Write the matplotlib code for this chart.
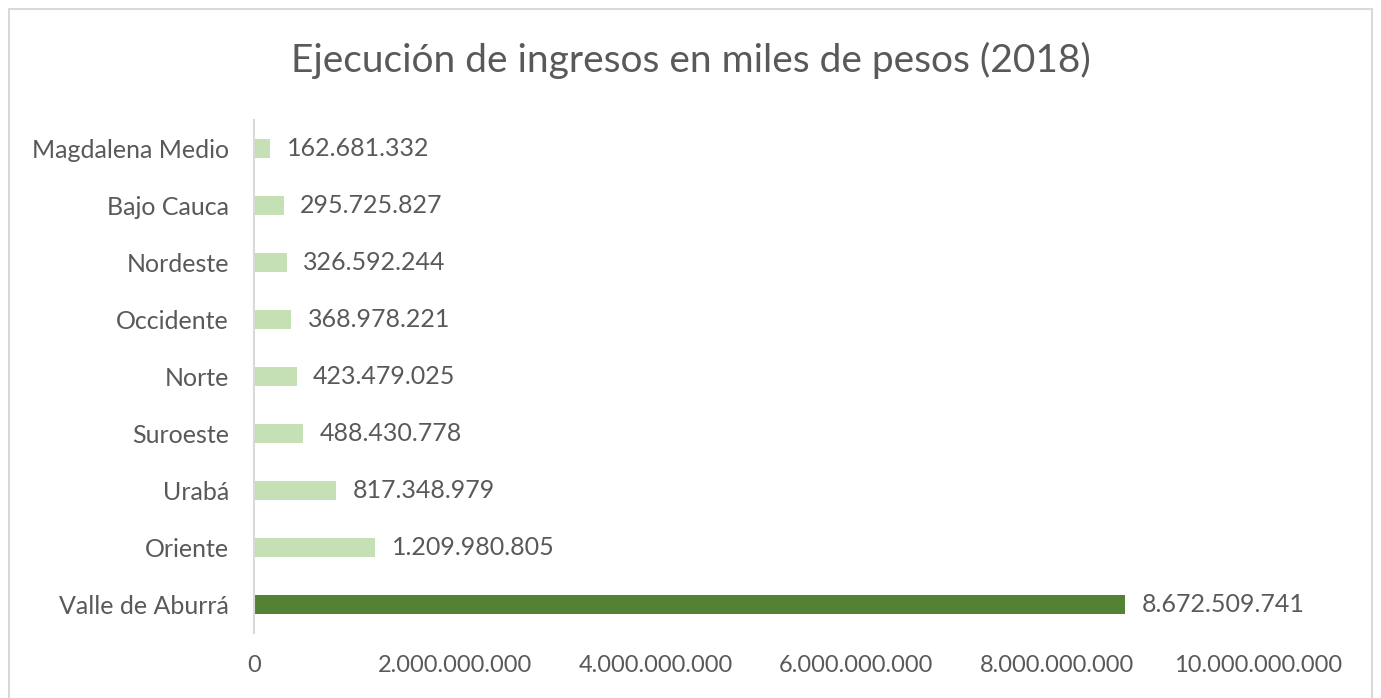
import matplotlib.pyplot as plt
from matplotlib.patches import Rectangle

regiones = ['Valle de Aburrá', 'Oriente', 'Urabá', 'Suroeste', 'Norte',
            'Occidente', 'Nordeste', 'Bajo Cauca', 'Magdalena Medio']
ingresos = [8672509741, 1209980805, 817348979, 488430778, 423479025,
            368978221, 326592244, 295725827, 162681332]
colores = ['#548235'] + ['#C5E0B4'] * 8
ticks = [0, 2e9, 4e9, 6e9, 8e9, 10e9]

def miles(v):
    return f'{int(v):,}'.replace(',', '.')

plt.rcParams['font.family'] = ['Lato', 'DejaVu Sans']
gris = '#595959'

fig = plt.figure(figsize=(13.81, 6.98), dpi=100)
ax = fig.add_axes([254 / 1381, 65 / 698, 1004 / 1381, 513 / 698])

y = range(len(regiones))
ax.barh(y, ingresos, height=0.35, color=colores)
for i, v in zip(y, ingresos):
    ax.annotate(miles(v), (v, i), xytext=(12, 0), textcoords='offset points',
                va='center', ha='left', fontsize=18, color=gris)

ax.set_xlim(0, 10e9)
ax.set_ylim(-0.5, len(regiones) - 0.5)
ax.set_yticks(list(y))
ax.set_yticklabels(regiones, fontsize=18, color=gris)
ax.set_xticks(ticks)
ax.set_xticklabels([miles(t) for t in ticks], fontsize=17, color=gris)
ax.tick_params(axis='y', length=0, pad=18)
ax.tick_params(axis='x', length=0, pad=16)
for s in ['top', 'right', 'bottom']:
    ax.spines[s].set_visible(False)
ax.spines['left'].set_color('#D9D9D9')
ax.spines['left'].set_linewidth(1.5)

fig.text(0.5, 1 - 60 / 698, 'Ejecución de ingresos en miles de pesos (2018)',
         ha='center', va='center', fontsize=28, color=gris)

fig.patches.append(Rectangle((9 / 1381, -0.01), 1363 / 1381, 1 - 9 / 698 + 0.01,
                             transform=fig.transFigure, fill=False,
                             edgecolor='#D9D9D9', linewidth=1.5))

fig.savefig('out.png', dpi=100)
